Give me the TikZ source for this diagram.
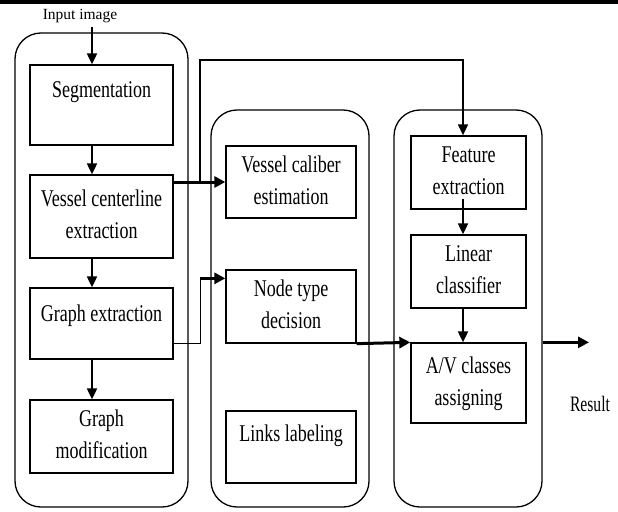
\documentclass[tikz,border=0pt]{standalone}
\usepackage{fontspec}
\setmainfont{Liberation Serif}
\usepackage{graphicx}
\usetikzlibrary{arrows.meta,calc}
\newcommand{\sqz}[1]{\scalebox{0.75}[1]{\begin{tabular}{@{}c@{}}#1\end{tabular}}}
\tikzset{
  panel/.style={draw, line width=1.3pt, rounded corners=26pt, inner sep=0pt},
  stage/.style={draw, line width=1.3pt, inner sep=0pt, font=\fontsize{24}{32}\selectfont},
  flow/.style={line width=2pt, -{Triangle[length=11pt,width=10pt]}},
  bigflow/.style={line width=3pt, -{Triangle[length=11pt,width=11pt]}},
  wire/.style={line width=1.5pt},
}

\begin{document}
\begin{tikzpicture}[x=1pt,y=-1pt]
    \useasboundingbox (0,0) rectangle (618,511);
    \fill (0,0) rectangle (618,4);
    % the three columns
    \node[panel, minimum width=173pt, minimum height=474pt] (col1) at (101.5,270) {};
    \node[panel, minimum width=158pt, minimum height=397pt] (col2) at (290,308.5) {};
    \node[panel, minimum width=148pt, minimum height=397pt] (col3) at (468,308.5) {};
    % left column
    \node[stage, minimum width=143pt, minimum height=80pt] (seg) at (101.5,105) {\sqz{Segmentation\rule[-38pt]{0pt}{38pt}}};
    \node[stage, minimum width=143pt, minimum height=83pt] (vcl) at (101.5,216.5) {\sqz{Vessel centerline\\extraction}};
    \node[stage, minimum width=143pt, minimum height=71pt] (gext) at (101.5,323.5) {\sqz{Graph extraction\rule[-26pt]{0pt}{26pt}}};
    \node[stage, minimum width=143pt, minimum height=73pt] (gmod) at (101.5,436.5) {\sqz{Graph\\modification}};
    % middle column
    \node[stage, minimum width=130pt, minimum height=72pt] (vce) at (291,182) {\sqz{Vessel caliber\\estimation}};
    \node[stage, minimum width=130pt, minimum height=73pt] (ntd) at (291,306.5) {\sqz{Node type\\decision}};
    \node[stage, minimum width=130pt, minimum height=72pt] (lnk) at (291,447) {\sqz{Links labeling\rule[-33pt]{0pt}{33pt}}};
    % right column
    \node[stage, minimum width=115pt, minimum height=73pt] (fext) at (468.5,172.5) {\sqz{Feature\\extraction}};
    \node[stage, minimum width=115pt, minimum height=73pt] (lin) at (468.5,271.5) {\sqz{Linear\\classifier}};
    \node[stage, minimum width=115pt, minimum height=80pt] (avc) at (468.5,383) {\sqz{A/V classes\\assigning}};
    % labels
    \node[anchor=base, font=\fontsize{15.5}{18}\selectfont] (inimg) at (80,20) {Input image};
    \node[anchor=base, font=\fontsize{22}{26}\selectfont] (res) at (590,411.5) {\scalebox{0.71}[1]{Result}};
    % arrows
    \coordinate (lax) at (92,0);
    \coordinate (rax) at (463,0);
    \coordinate (up) at (200,60);
    \coordinate (kink) at ([xshift=-25pt,yshift=-9pt]ntd.north west);
    \coordinate (outend) at (589,0);
    \draw[flow] (inimg.south -| lax) -- (seg.north -| lax);
    \draw[flow] (seg.south -| lax) -- (vcl.north -| lax);
    \draw[flow] (vcl.south -| lax) -- (gext.north -| lax);
    \draw[flow] (gext.south -| lax) -- (gmod.north -| lax);
    \draw[bigflow] (vcl.east |- vce.west) -- (vce.west);
    \draw[wire, -{Triangle[length=11pt,width=10pt]}] (up |- vce.west) -- (up) -| (fext.north -| rax);
    \draw[wire] ([yshift=16pt]gext.south east) -| (kink);
    \draw[bigflow] (kink) -- (kink -| ntd.west);
    \draw[bigflow] (ntd.south east) -- (avc.north west);
    \draw[flow] ([yshift=11pt]fext.south -| rax) -- (lin.north -| rax);
    \draw[flow] (lin.south -| rax) -- (avc.north -| rax);
    \draw[bigflow] (col3.east |- avc.north) -- (outend |- avc.north);
\end{tikzpicture}
\end{document}
